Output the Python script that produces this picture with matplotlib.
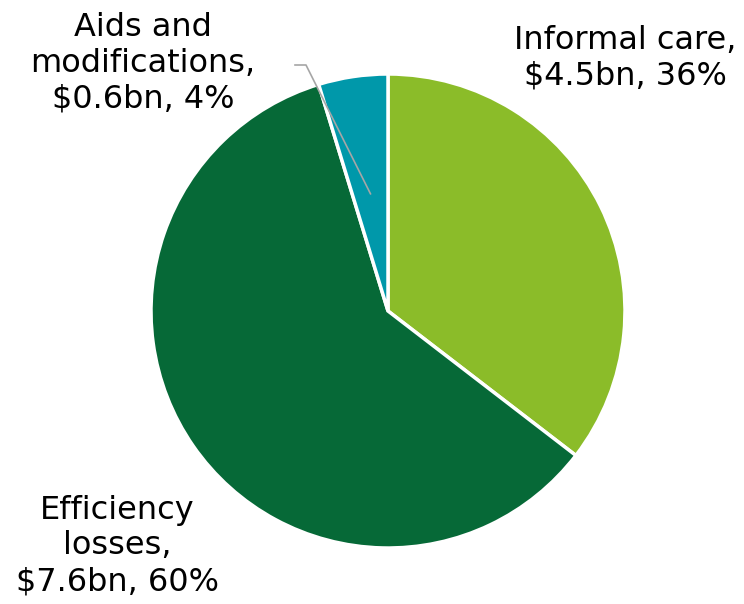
import numpy as np
import matplotlib
matplotlib.use('Agg')
import matplotlib.pyplot as plt

# cost components, $bn
labels = ['Informal care', 'Efficiency losses', 'Aids and\nmodifications']
values = [4.5, 7.6, 0.6]
shares = ['36%', '60%', '4%']
colors = ['#8BBC29', '#066937', '#0098AA']

plt.rcParams['font.family'] = ['DejaVu Sans']

fig = plt.figure(figsize=(7.44, 6.04), dpi=100)
ax = fig.add_axes([0, 0, 1, 1])

cx, cy, r = 388, 604 - 311, 237
wedges, _ = ax.pie(values, colors=colors, startangle=90, counterclock=False,
                   center=(cx, cy), radius=r,
                   wedgeprops=dict(edgecolor='white', linewidth=2.5))

ax.set_xlim(0, 744)
ax.set_ylim(0, 604)
ax.set_aspect('equal')
ax.axis('off')

fs = 23
ls = 1.2
ax.text(625, 604 - 58, 'Informal care,\n$%.1fbn, %s' % (values[0], shares[0]),
        ha='center', va='center', fontsize=fs, linespacing=ls)
ax.text(117, 604 - 546, 'Efficiency\nlosses,\n$%.1fbn, %s' % (values[1], shares[1]),
        ha='center', va='center', fontsize=fs, linespacing=ls)
ax.text(143, 604 - 63, 'Aids and\nmodifications,\n$%.1fbn, %s' % (values[2], shares[2]),
        ha='center', va='center', fontsize=fs, linespacing=ls)

# leader line to the small wedge
w = wedges[2]
mid = np.deg2rad((w.theta1 + w.theta2) / 2)
ex, ey = cx + 0.5 * r * np.cos(mid), cy + 0.5 * r * np.sin(mid)
ax.plot([295, 306, ex], [604 - 65, 604 - 65, ey], color='#A6A6A6', linewidth=1.2)

fig.savefig('out.png', dpi=100)
